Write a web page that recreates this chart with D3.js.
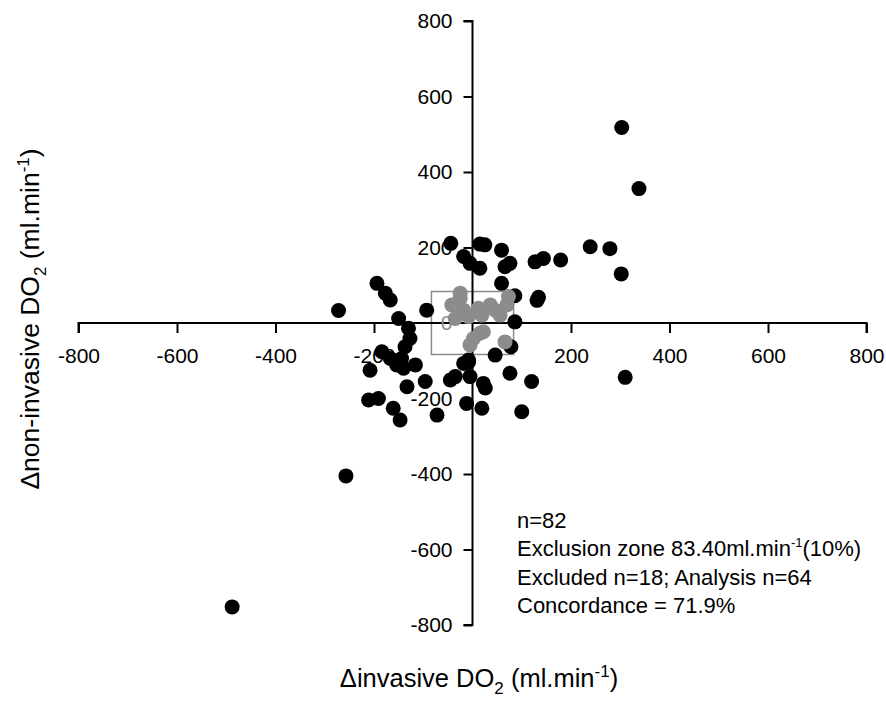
<!DOCTYPE html>
<html><head><meta charset="utf-8">
<script src="https://cdn.jsdelivr.net/npm/d3@7"></script>
<style>body{margin:0;background:#fff;} text{font-family:"Liberation Sans",Arial,sans-serif;}</style>
</head><body><svg id="c" width="886" height="705"></svg>
<script>
// analysed points (outside exclusion zone)
const analysisX = [303,338,239,279,302,179,144,127,134,131,310,
  -44,15,25,59,-18,-5,15,66,76,59,86,
  86,78,
  -194,-177,-167,-272,-93,-150,
  -130,-127,-137,-184,-167,-144,-154,-140,-116,-208,-133,-96,
  -18,-8,-45,-35,-5,22,26,46,76,120,-12,19,100,-72,-211,-191,-161,-147,
  -488,-257,-8,-150];
const analysisY = [518,356,202,197,130,167,171,162,68,60,-144,
  211,209,207,193,176,158,145,149,158,105,72,
  3,-63,
  105,79,61,33,34,12,
  -14,-41,-63,-76,-94,-94,-111,-120,-111,-125,-169,-155,
  -107,-98,-151,-142,-142,-160,-172,-85,-133,-155,-213,-226,-235,-244,-204,-200,-226,-257,
  -752,-405,-103,-100];
// excluded points (inside exclusion zone)
const excludedX = [-25,-42,-35,-18,-8,12,19,36,46,56,70,73,2,15,22,-5,66,-25];
const excludedY = [65,48,12,34,17,39,21,48,34,21,48,70,-41,-27,-23,-58,-50,79];
const exclusionZone = 83.4;
const xTicks = [-800,-600,-400,-200,200,400,600,800];
const yTicks = [800,600,400,200,0,-200,-400,-600,-800];
const notes = ["n=82", "Exclusion zone 83.40ml.min|-1|(10%)", "Excluded n=18; Analysis n=64", "Concordance = 71.9%"];

const svg = d3.select("#c");
const x = d3.scaleLinear().domain([-800,800]).range([78.5,866.5]);
const y = d3.scaleLinear().domain([-800,800]).range([625,21]);

// exclusion box
svg.append("rect")
  .attr("x", x(-exclusionZone)).attr("y", y(exclusionZone))
  .attr("width", x(exclusionZone)-x(-exclusionZone))
  .attr("height", y(-exclusionZone)-y(exclusionZone))
  .attr("fill","none").attr("stroke","#8a8a8a").attr("stroke-width",1.5);

// axes
const fmt = d => String(d);
const xAxis = d3.axisBottom(x).tickValues(xTicks).tickSize(10).tickPadding(15).tickFormat(fmt);
const gx = svg.append("g").attr("transform",`translate(0,${y(0)})`).call(xAxis);
const yAxis = d3.axisLeft(y).tickValues(yTicks).tickSize(9).tickPadding(11).tickFormat(fmt);
const gy = svg.append("g").attr("transform",`translate(${x(0)},0)`).call(yAxis);
[gx,gy].forEach(g=>{
  g.select(".domain").attr("stroke","#000").attr("stroke-width",2);
  g.selectAll(".tick line").attr("stroke","#000").attr("stroke-width",2);
  g.selectAll(".tick text").attr("fill","#000").style("font-size","21px").style("font-family","Liberation Sans, Arial, sans-serif");
});
gx.select(".domain").attr("d", `M${x(-800)},10V0H${x(800)}V10`);
gy.select(".domain").attr("d", `M-9,${y(800)}H0V${y(-800)}H-9`);
gy.selectAll(".tick").filter(d=>d===0).select("text").attr("fill","#8a8a8a");
gy.selectAll(".tick").filter(d=>d===0).select("line").remove();

// points
const an = analysisX.map((v,i)=>({x:v,y:analysisY[i]}));
const ex = excludedX.map((v,i)=>({x:v,y:excludedY[i]}));
svg.append("g").selectAll("circle").data(an).join("circle")
  .attr("cx",d=>x(d.x)).attr("cy",d=>y(d.y)).attr("r",7.5).attr("fill","#000");
svg.append("g").selectAll("circle").data(ex).join("circle")
  .attr("cx",d=>x(d.x)).attr("cy",d=>y(d.y)).attr("r",7.5).attr("fill","#8c8c8c");

// annotation
const ann = svg.append("g").attr("transform","translate(517,0)");
notes.forEach((s,i)=>{
  const t = ann.append("text").attr("x",0).attr("y",528+i*28.3).style("font-size","22px").attr("fill","#000");
  const parts = s.split("|");
  t.append("tspan").text(parts[0]);
  if(parts.length>1){
    t.append("tspan").attr("dy",-9).style("font-size","13px").text(parts[1]);
    t.append("tspan").attr("dy",9).text(parts[2]);
  }
});

// axis titles
const xt = svg.append("text").attr("x",479).attr("y",687).attr("text-anchor","middle").style("font-size","25.5px").attr("fill","#000");
xt.append("tspan").text("\u0394invasive DO");
xt.append("tspan").attr("dy",7).style("font-size","17px").text("2");
xt.append("tspan").attr("dy",-7).text(" (ml.min");
xt.append("tspan").attr("dy",-10).style("font-size","17px").text("-1");
xt.append("tspan").attr("dy",10).text(")");

const yt = svg.append("text").attr("transform","translate(39,319) rotate(-90)").attr("text-anchor","middle").style("font-size","26.5px").attr("fill","#000");
yt.append("tspan").text("\u0394non-invasive DO");
yt.append("tspan").attr("dy",7).style("font-size","17px").text("2");
yt.append("tspan").attr("dy",-7).text(" (ml.min");
yt.append("tspan").attr("dy",-10).style("font-size","17px").text("-1");
yt.append("tspan").attr("dy",10).text(")");
</script></body></html>
